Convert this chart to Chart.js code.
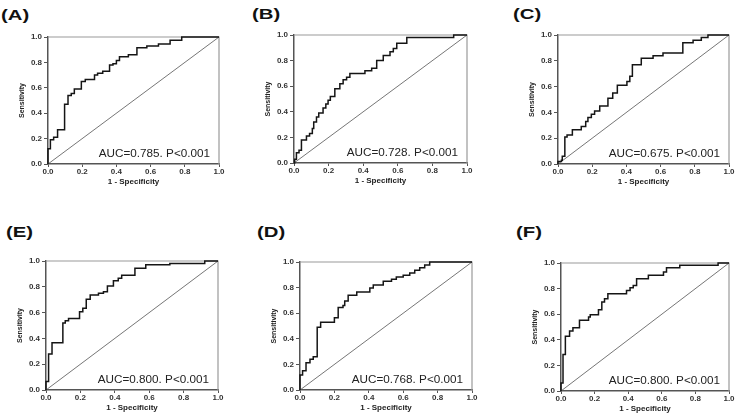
<!DOCTYPE html>
<html><head><meta charset="utf-8">
<script src="https://cdn.jsdelivr.net/npm/chart.js@4/dist/chart.umd.min.js"></script>
<style>
html,body{margin:0;padding:0;background:#fff}
body{width:740px;height:414px;overflow:hidden;position:relative;font-family:"Liberation Sans",Arial,sans-serif}
.lab{position:absolute;font-weight:bold;font-size:14px;line-height:14px;transform:scaleX(1.45);transform-origin:left top;color:#111;white-space:nowrap}
canvas{position:absolute}
</style></head><body>
<script>
// ---- data ----
const panelLabels = ["(A)", "(B)", "(C)", "(E)", "(D)", "(F)"];
const aucTexts = ["AUC=0.785. P<0.001", "AUC=0.728. P<0.001", "AUC=0.675. P<0.001",
                  "AUC=0.800. P<0.001", "AUC=0.768. P<0.001", "AUC=0.800. P<0.001"];
const tickValues = [0, 0.2, 0.4, 0.6, 0.8, 1.0];
const xTitle = "1 - Specificity";
const yTitle = "Sensitivity";

const fprA = [0, 0, 0.014, 0.033, 0.056, 0.097, 0.117, 0.136, 0.154, 0.195, 0.218, 0.272, 0.29, 0.32, 0.36, 0.38, 0.40, 0.418, 0.47, 0.52, 0.578, 0.646, 0.714, 0.782, 1.0];
const tprA = [0, 0.12, 0.19, 0.21, 0.27, 0.47, 0.54, 0.555, 0.59, 0.65, 0.665, 0.70, 0.715, 0.73, 0.78, 0.79, 0.815, 0.845, 0.86, 0.915, 0.93, 0.945, 0.975, 1.0, 1.0];

const fprB = [0, 0.004, 0.014, 0.029, 0.043, 0.072, 0.09, 0.106, 0.114, 0.13, 0.143, 0.168, 0.184, 0.197, 0.21, 0.236, 0.265, 0.284, 0.304, 0.323, 0.41, 0.449, 0.478, 0.516, 0.555, 0.574, 0.594, 0.652, 0.923, 1.0];
const tprB = [0, 0.03, 0.08, 0.10, 0.18, 0.21, 0.23, 0.27, 0.32, 0.36, 0.39, 0.43, 0.46, 0.49, 0.52, 0.58, 0.62, 0.65, 0.67, 0.70, 0.72, 0.74, 0.80, 0.84, 0.87, 0.895, 0.935, 0.98, 1.0, 1.0];

const fprC = [0, 0, 0.02, 0.025, 0.04, 0.053, 0.084, 0.136, 0.162, 0.175, 0.195, 0.214, 0.244, 0.292, 0.32, 0.347, 0.403, 0.42, 0.435, 0.487, 0.556, 0.614, 0.73, 0.79, 0.838, 0.877, 1.0];
const tprC = [0, 0.02, 0.03, 0.06, 0.21, 0.225, 0.265, 0.29, 0.33, 0.36, 0.385, 0.41, 0.45, 0.51, 0.55, 0.61, 0.64, 0.68, 0.77, 0.82, 0.84, 0.86, 0.94, 0.96, 0.98, 1.0, 1.0];

const fprE = [0, 0, 0.015, 0.035, 0.098, 0.112, 0.131, 0.195, 0.214, 0.234, 0.257, 0.305, 0.334, 0.357, 0.392, 0.42, 0.44, 0.517, 0.58, 0.72, 0.923, 1.0];
const tprE = [0, 0.065, 0.28, 0.367, 0.52, 0.537, 0.555, 0.607, 0.633, 0.703, 0.736, 0.75, 0.762, 0.806, 0.847, 0.866, 0.89, 0.943, 0.97, 0.98, 1.0, 1.0];

const fprD = [0, 0, 0.015, 0.035, 0.058, 0.077, 0.1, 0.12, 0.2, 0.222, 0.25, 0.26, 0.28, 0.33, 0.406, 0.426, 0.484, 0.532, 0.56, 0.6, 0.638, 0.667, 0.696, 0.725, 0.754, 1.0];
const tprD = [0, 0.117, 0.15, 0.213, 0.24, 0.26, 0.49, 0.53, 0.565, 0.645, 0.66, 0.695, 0.74, 0.765, 0.797, 0.82, 0.85, 0.865, 0.883, 0.896, 0.914, 0.935, 0.956, 0.977, 1.0, 1.0];

const fprF = [0, 0, 0.012, 0.026, 0.051, 0.071, 0.11, 0.164, 0.174, 0.223, 0.243, 0.259, 0.279, 0.39, 0.411, 0.43, 0.45, 0.52, 0.61, 0.628, 0.707, 0.935, 1.0];
const tprF = [0, 0.0625, 0.286, 0.427, 0.469, 0.495, 0.552, 0.578, 0.596, 0.635, 0.695, 0.72, 0.76, 0.786, 0.807, 0.825, 0.877, 0.904, 0.93, 0.963, 0.982, 1.0, 1.0];

const diagX = [0, 1];
const diagY = [0, 1];

// ---- layout (plot-area boxes: left, top, right, bottom) ----
const layoutBoxes = [[48,37,219,164],[294,35,467,163],[558,35,729,164],
                     [46,261,218,390],[300,262,472,390],[561,263,729,391]];
const labelPos = [[1,8],[252,7],[513,7],[6,225],[257,225],[516,225]];
const series = [[fprA,tprA],[fprB,tprB],[fprC,tprC],[fprE,tprE],[fprD,tprD],[fprF,tprF]];

const FONT = "'Liberation Sans', Arial, sans-serif";
const LEFTW = 40, TOPP = 8, RIGHTP = 8, BOTH = 28;

const framePlugin = {
  id: 'frame',
  beforeDatasetsDraw(chart) {
    const {ctx, chartArea: a} = chart;
    ctx.save();
    ctx.strokeStyle = '#9a9a9a';
    ctx.lineWidth = 1.2;
    ctx.beginPath();
    ctx.moveTo(a.left, a.top);
    ctx.lineTo(a.right, a.top);
    ctx.lineTo(a.right, a.bottom);
    ctx.stroke();
    ctx.restore();
  }
};
const aucPlugin = {
  id: 'auc',
  afterDraw(chart, args, opts) {
    const {ctx, chartArea: a} = chart;
    ctx.save();
    ctx.font = "10px " + FONT;
    ctx.fillStyle = '#222';
    ctx.textAlign = 'right';
    ctx.textBaseline = 'alphabetic';
    ctx.translate(a.right - 9, a.bottom - 7);
    ctx.scale(1.17, 1);
    ctx.fillText(opts.text, 0, 0);
    ctx.restore();
  }
};

layoutBoxes.forEach((b, i) => {
  const [L, T, R, B] = b;
  const lab = document.createElement('div');
  lab.className = 'lab';
  lab.textContent = panelLabels[i];
  lab.style.left = labelPos[i][0] + 'px';
  lab.style.top = labelPos[i][1] + 'px';
  document.body.appendChild(lab);

  const cv = document.createElement('canvas');
  const w = (R - L) + LEFTW + RIGHTP, h = (B - T) + TOPP + BOTH;
  cv.width = w; cv.height = h;
  cv.style.left = (L - LEFTW) + 'px';
  cv.style.top = (T - TOPP) + 'px';
  cv.style.width = w + 'px'; cv.style.height = h + 'px';
  document.body.appendChild(cv);

  const [xs, ys] = series[i];
  const pts = xs.map((x, k) => ({x: x, y: ys[k]}));
  const diag = diagX.map((x, k) => ({x: x, y: diagY[k]}));

  const tickFont = {size: 8, weight: 'bold', family: FONT};
  new Chart(cv, {
    type: 'line',
    data: {datasets: [
      {data: pts, stepped: 'before', borderColor: '#151515', borderWidth: 1.5, pointRadius: 0, fill: false, clip: 4},
      {data: diag, borderColor: '#666', borderWidth: 0.9, pointRadius: 0, fill: false}
    ]},
    options: {
      responsive: false, animation: false, events: [],
      devicePixelRatio: 1,
      layout: {padding: {left: 0, top: TOPP, right: RIGHTP, bottom: 0}},
      plugins: {legend: {display: false}, tooltip: {enabled: false}, auc: {text: aucTexts[i]}},
      scales: {
        x: {
          type: 'linear', min: 0, max: 1,
          afterFit(s) { s.height = BOTH; },
          afterBuildTicks(s) { s.ticks = tickValues.map(v => ({value: v})); },
          ticks: {font: tickFont, color: '#333', padding: 0, maxRotation: 0, autoSkip: false,
                  callback: v => Number(v).toFixed(1)},
          grid: {display: true, drawOnChartArea: false, drawTicks: true, tickLength: 3, color: '#555', lineWidth: 1},
          border: {color: '#555', width: 1.5},
          title: {display: true, text: xTitle, color: '#222', font: {size: 8, weight: 'bold', family: FONT},
                  padding: {top: 0, bottom: 5}}
        },
        y: {
          type: 'linear', min: 0, max: 1,
          afterFit(s) { s.width = LEFTW; },
          afterBuildTicks(s) { s.ticks = tickValues.map(v => ({value: v})); },
          ticks: {font: tickFont, color: '#333', padding: 2, autoSkip: false,
                  callback: v => Number(v).toFixed(1)},
          grid: {display: true, drawOnChartArea: false, drawTicks: true, tickLength: 4, color: '#555', lineWidth: 1},
          border: {color: '#555', width: 1.5},
          title: {display: true, text: yTitle, color: '#222', font: {size: 7, weight: 'bold', family: FONT},
                  padding: {top: 10, bottom: 0}}
        }
      }
    },
    plugins: [framePlugin, aucPlugin]
  });
});
</script>
</body></html>
